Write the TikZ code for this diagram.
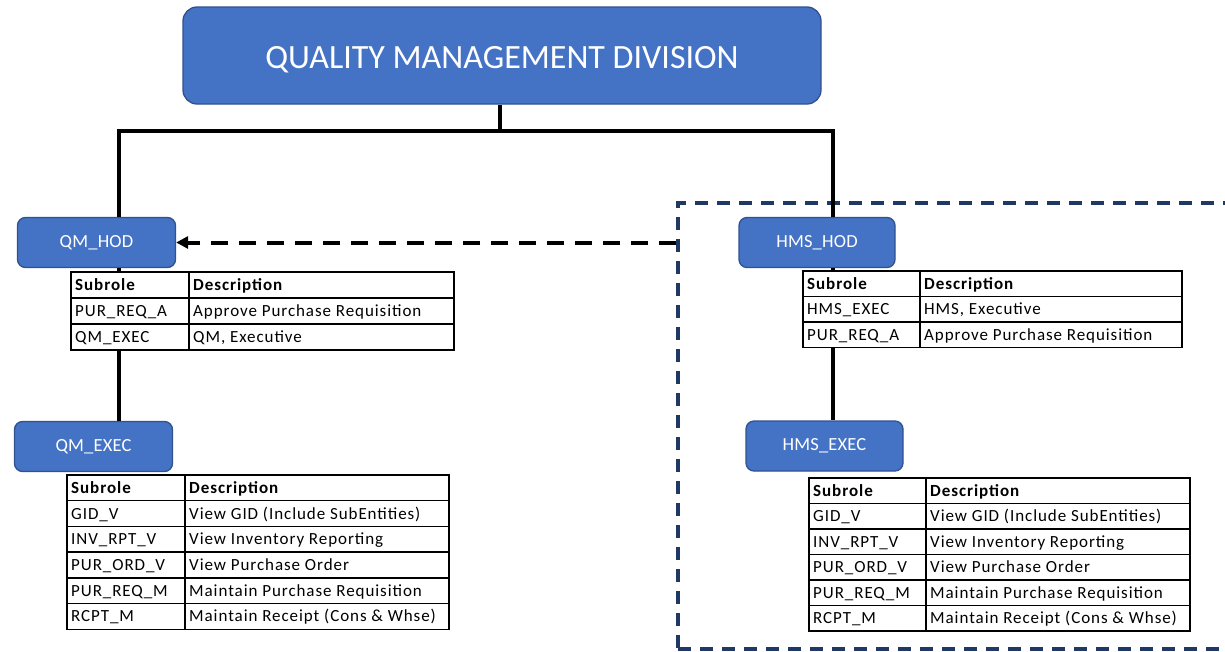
\documentclass[tikz,border=0pt]{standalone}
\usepackage{fontspec}
\setmainfont{Carlito}
\usetikzlibrary{arrows.meta}
\definecolor{boxblue}{HTML}{4472C4}
\definecolor{boxedge}{HTML}{2F528F}
\definecolor{navy}{HTML}{1F3864}
\newcommand\roletable[7]{%
  % #1 name, #2 x0, #3 xdiv, #4 x1, #5 ytop, #6 row height, #7 rows
  \foreach \s/\d [count=\i from 0] in {Subrole/Description,#7}{%
    \draw[tblline] (#2,{#5+\i*#6}) rectangle (#3,{#5+(\i+1)*#6});
    \draw[tblline] (#3,{#5+\i*#6}) rectangle (#4,{#5+(\i+1)*#6});
    \node[cell] (#1-s\i) at ({#2+4},{#5+(\i+0.5)*#6+5.5}) {\ifnum\i=0 \bfseries\fi\s};
    \node[cell] (#1-d\i) at ({#3+4},{#5+(\i+0.5)*#6+5.5}) {\ifnum\i=0 \bfseries\fi\d};
  }%
}
\begin{document}
\begin{tikzpicture}[x=1pt,y=-1pt,
  role/.style={draw=boxedge, line width=1.3pt, fill=boxblue, rounded corners=8pt,
    text=white, inner sep=0pt, font=\fontsize{18.5}{22}\selectfont\addfontfeatures{LetterSpace=1}},
  cell/.style={anchor=base west, inner sep=0pt, text=black,
    font=\fontsize{17}{20}\selectfont\addfontfeatures{LetterSpace=5.5}},
  tblline/.style={draw=black, line width=1.4pt, fill=white},
  link/.style={line width=3.5pt, draw=black},
  dasharrow/.style={line width=4pt, dash pattern=on 17pt off 11pt, -{Triangle[length=12pt,width=12pt]}},
  group/.style={draw=navy, line width=3.4pt, dash pattern=on 13pt off 9pt, inner sep=0pt},
]
\useasboundingbox (0,0) rectangle (1225,651);

% dashed group frame
\node[group, minimum width=562pt, minimum height=446pt] (grp) at (959,426) {};

% role boxes
\node[role, minimum width=638pt, minimum height=97pt, rounded corners=14pt,
      font=\fontsize{34}{40}\selectfont] (qmd) at (502,55.5) {};
\node[text=white, font=\fontsize{34}{40}\selectfont, anchor=base] (qmdlabel) at (502,68) {QUALITY MANAGEMENT DIVISION};
\node[role, minimum width=158pt, minimum height=50pt] (qmhod) at (96.5,242.5) {QM\_HOD};
\node[role, minimum width=156pt, minimum height=50pt] (hmshod) at (817,242.5) {HMS\_HOD};
\node[role, minimum width=158pt, minimum height=50pt] (qmexec) at (93.5,446.5) {QM\_EXEC};
\node[role, minimum width=157pt, minimum height=50pt] (hmsexec) at (824.5,446) {HMS\_EXEC};

% connectors
\coordinate (bus) at (500,131);
\coordinate (qmtap) at ([xshift=22.5pt]qmhod.north);
\coordinate (hmstap) at ([xshift=16pt]hmshod.north);
\draw[link] ([xshift=-2pt]qmd.south) -- ([xshift=-2pt]qmd.south |- bus);
\draw[link, line join=miter] (qmtap) -- (qmtap |- bus) -- (hmstap |- bus) -- (hmstap);
\draw[link] (qmtap |- qmhod.south) -- (qmtap |- qmexec.north);
\draw[link] (hmstap |- hmshod.south) -- (hmstap |- hmsexec.north);
\draw[dasharrow] (grp.west |- qmhod.east) -- (qmhod.east);

% subrole tables
\roletable{tqmhod}{71}{189}{454}{272}{26}{PUR\_REQ\_A/Approve Purchase Requisition, QM\_EXEC/QM{,} Executive}
\roletable{thmshod}{803}{920}{1182}{271}{25.5}{HMS\_EXEC/HMS{,} Executive, PUR\_REQ\_A/Approve Purchase Requisition}
\roletable{tqmexec}{67}{185}{449}{475}{25.7}{GID\_V/View GID (Include SubEntities), INV\_RPT\_V/View Inventory Reporting, PUR\_ORD\_V/View Purchase Order, PUR\_REQ\_M/Maintain Purchase Requisition, RCPT\_M/Maintain Receipt (Cons \& Whse)}
\roletable{thmsexec}{809}{926}{1190}{478}{25.5}{GID\_V/View GID (Include SubEntities), INV\_RPT\_V/View Inventory Reporting, PUR\_ORD\_V/View Purchase Order, PUR\_REQ\_M/Maintain Purchase Requisition, RCPT\_M/Maintain Receipt (Cons \& Whse)}
\end{tikzpicture}
\end{document}
